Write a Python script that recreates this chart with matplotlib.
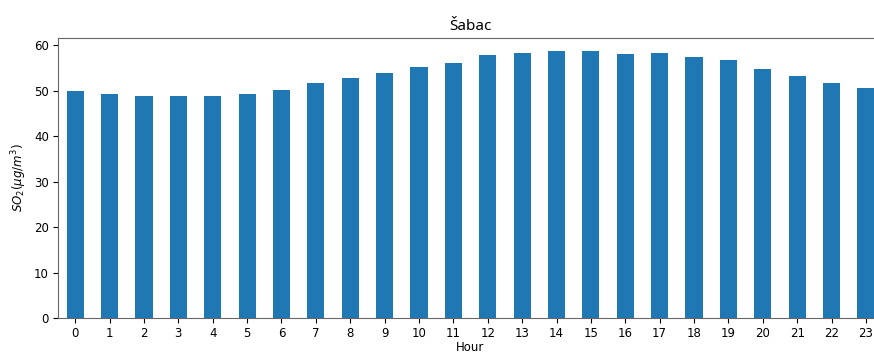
import matplotlib
matplotlib.use("Agg")
import matplotlib.pyplot as plt
import numpy as np

# mean SO2 concentration by hour of day
hours = list(range(24))
so2 = [50.0, 49.3, 48.9, 48.9, 48.8, 49.2, 50.2, 51.7, 52.8, 54.0, 55.3, 56.1,
       57.9, 58.2, 58.8, 58.8, 58.1, 58.2, 57.5, 56.8, 54.8, 53.3, 51.7, 50.7]

fig = plt.figure(figsize=(8.74, 3.54), dpi=100)
ax = fig.add_axes([0.0664, 0.1017, 0.944, 0.791])

x = np.arange(len(hours))
ax.bar(x, so2, width=0.5, color="#1f77b4")
ax.set_xlim(-0.5, len(hours) - 0.5)
ax.set_ylim(0, 61.6)
ax.set_xticks(x)
ax.set_xticklabels([str(h) for h in hours], rotation=0)

ax.set_title("Šabac", fontsize=11, family="Noto Sans")
ax.set_xlabel("Hour", fontsize=8.5, labelpad=1)
ax.set_ylabel(r"$SO_2 (\mu g/m^3)$", fontsize=8.5)
ax.tick_params(labelsize=8.5, pad=3)
for s in ax.spines.values():
    s.set_color("#666666")

fig.savefig("out.png", dpi=100)
